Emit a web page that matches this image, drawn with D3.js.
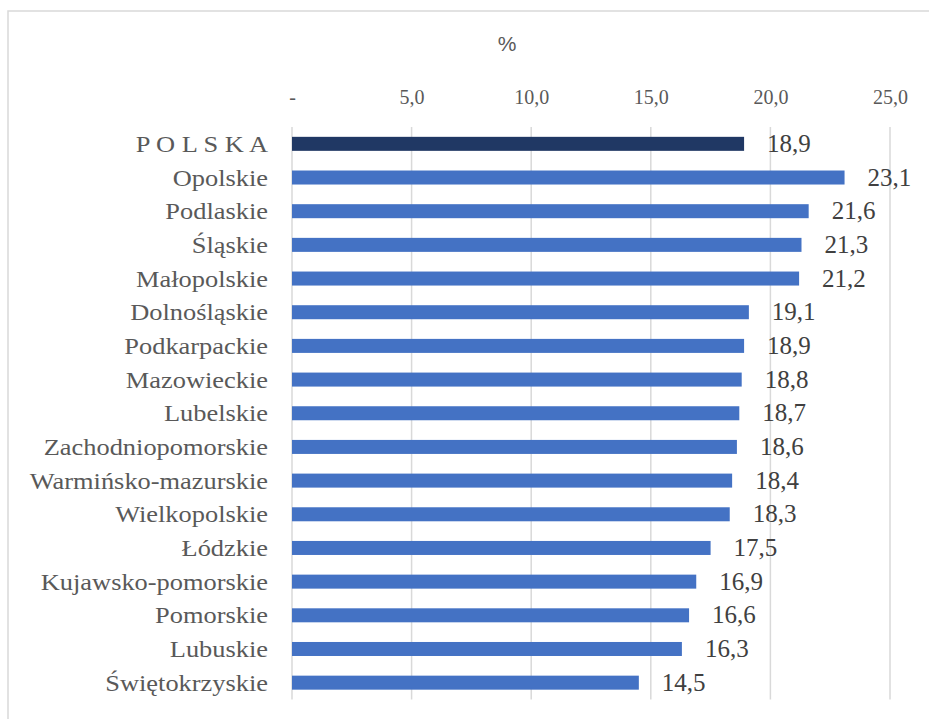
<!DOCTYPE html>
<html>
<head>
<meta charset="utf-8">
<script src="https://cdn.jsdelivr.net/npm/d3@7"></script>
<style>
  html, body { margin: 0; padding: 0; background: #fff; }
  svg { display: block; }
  .serif { font-family: "Liberation Serif", "Times New Roman", Times, "DejaVu Serif", serif; }
</style>
</head>
<body>
<svg id="chart" width="929" height="719"></svg>
<script>
// regions, top to bottom as in the source figure
var regions = ["P O L S K A", "Opolskie", "Podlaskie", "Śląskie", "Małopolskie", "Dolnośląskie",
  "Podkarpackie", "Mazowieckie", "Lubelskie", "Zachodniopomorskie", "Warmińsko-mazurskie",
  "Wielkopolskie", "Łódzkie", "Kujawsko-pomorskie", "Pomorskie", "Lubuskie", "Świętokrzyskie"];
var values = [18.9, 23.1, 21.6, 21.3, 21.2, 19.1, 18.9, 18.8, 18.7, 18.6, 18.4, 18.3, 17.5, 16.9, 16.6, 16.3, 14.5];
var tickValues = [0, 5, 10, 15, 20, 25];
var unitLabel = "%";

var data = regions.map(function(d, i){ return {name: d, value: values[i]}; });

var svg = d3.select("#chart");
var grey = "#595959";

// outer frame (only left & top edges fall inside the picture)
svg.append("rect")
  .attr("x", 8).attr("y", 11)
  .attr("width", 940).attr("height", 730)
  .attr("fill", "none")
  .attr("stroke", "#d9d9d9")
  .attr("stroke-width", 1.5);

var xScale = d3.scaleLinear()
  .domain([0, 25])
  .range([292, 890]);

var yScale = d3.scaleBand()
  .domain(regions)
  .range([127, 699.5])
  .paddingInner(0.584)
  .paddingOuter(0.292);

var fmt = function(v){ return v === 0 ? "-" : d3.format(".1f")(v).replace(".", ","); };

// gridlines
svg.append("g")
  .selectAll("line")
  .data(tickValues)
  .enter()
  .append("line")
  .attr("x1", d => xScale(d)).attr("x2", d => xScale(d))
  .attr("y1", yScale.range()[0]).attr("y2", yScale.range()[1])
  .attr("stroke", "#d9d9d9")
  .attr("stroke-width", 1.5);

// top axis labels
var xAxis = d3.axisTop(xScale)
  .tickValues(tickValues)
  .tickFormat(fmt)
  .tickSize(0)
  .tickPadding(0);

var axisG = svg.append("g")
  .attr("transform", "translate(0,104)")
  .call(xAxis)
  .attr("font-family", null)
  .attr("font-size", null);
axisG.select(".domain").remove();
axisG.selectAll("text")
  .attr("class", "serif")
  .attr("dy", 0)
  .attr("fill", grey)
  .style("font-size", "20px");

// unit title
svg.append("text")
  .attr("x", 507).attr("y", 51)
  .attr("text-anchor", "middle")
  .attr("fill", grey)
  .style("font-family", "'Liberation Sans', Arial, sans-serif")
  .style("font-size", "21px")
  .text(unitLabel);

// bars
svg.append("g")
  .selectAll("rect")
  .data(data)
  .enter()
  .append("rect")
  .attr("x", xScale(0))
  .attr("y", d => yScale(d.name))
  .attr("width", d => xScale(d.value) - xScale(0))
  .attr("height", yScale.bandwidth())
  .attr("fill", (d, i) => i === 0 ? "#203864" : "#4472c4");

// category labels
svg.append("g")
  .selectAll("text")
  .data(data)
  .enter()
  .append("text")
  .attr("class", "serif")
  .attr("transform", d => "translate(268," + (yScale(d.name) + yScale.bandwidth()/2 + 8) + ") scale(1.1,1)")
  .attr("text-anchor", "end")
  .attr("fill", grey)
  .style("font-size", "24px")
  .text(d => d.name);

// value labels
svg.append("g")
  .selectAll("text")
  .data(data)
  .enter()
  .append("text")
  .attr("class", "serif")
  .attr("x", d => xScale(d.value) + 23)
  .attr("y", d => yScale(d.name) + yScale.bandwidth()/2 + 8)
  .attr("fill", "#404040")
  .style("font-size", "25px")
  .text(d => fmt(d.value));
</script>
</body>
</html>
